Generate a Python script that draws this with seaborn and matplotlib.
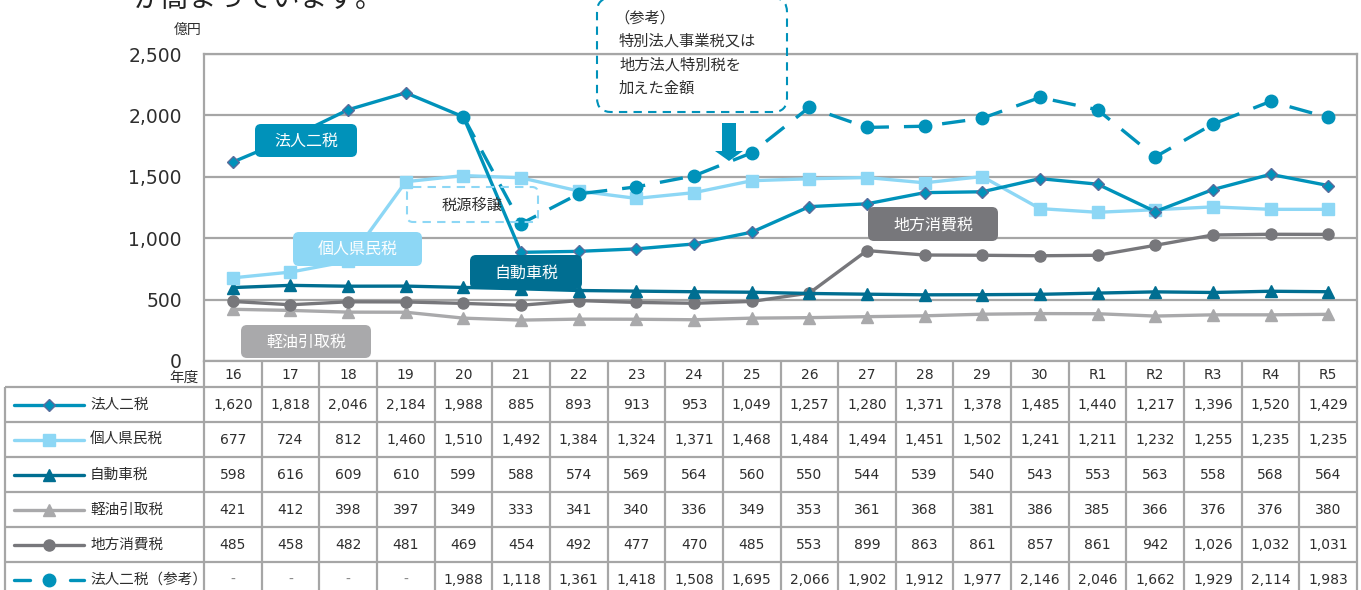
import numpy as np
import pandas as pd
import matplotlib
matplotlib.use("Agg")
import matplotlib.pyplot as plt
import seaborn as sns
from matplotlib.patches import FancyBboxPatch, Polygon

# ---------------- data ----------------
years = ['16', '17', '18', '19', '20', '21', '22', '23', '24', '25',
         '26', '27', '28', '29', '30', 'R1', 'R2', 'R3', 'R4', 'R5']
houjin = [1620, 1818, 2046, 2184, 1988, 885, 893, 913, 953, 1049,
          1257, 1280, 1371, 1378, 1485, 1440, 1217, 1396, 1520, 1429]
kojin = [677, 724, 812, 1460, 1510, 1492, 1384, 1324, 1371, 1468,
         1484, 1494, 1451, 1502, 1241, 1211, 1232, 1255, 1235, 1235]
jidosha = [598, 616, 609, 610, 599, 588, 574, 569, 564, 560,
           550, 544, 539, 540, 543, 553, 563, 558, 568, 564]
keiyu = [421, 412, 398, 397, 349, 333, 341, 340, 336, 349,
         353, 361, 368, 381, 386, 385, 366, 376, 376, 380]
chiho = [485, 458, 482, 481, 469, 454, 492, 477, 470, 485,
         553, 899, 863, 861, 857, 861, 942, 1026, 1032, 1031]
sanko = [np.nan, np.nan, np.nan, np.nan, 1988, 1118, 1361, 1418, 1508, 1695,
         2066, 1902, 1912, 1977, 2146, 2046, 1662, 1929, 2114, 1983]

names = ['法人二税', '個人県民税', '自動車税', '軽油引取税', '地方消費税', '法人二税（参考）']
values = [houjin, kojin, jidosha, keiyu, chiho, sanko]
yticks = [0, 500, 1000, 1500, 2000, 2500]
unit_label = '億円'
year_label = '年度'

# ---------------- styles ----------------
C_HOU = '#0092BA'
C_KOJ = '#8DD7F5'
C_JID = '#006E91'
C_KEI = '#A9A9AB'
C_CHI = '#77777B'
GRID = '#A6A6A6'
TXT = '#2E2E2E'
styles = {
    '法人二税': dict(color=C_HOU, marker='D', ms=6, mec='#5A6C9C', ls='-', z=6),
    '個人県民税': dict(color=C_KOJ, marker='s', ms=8, mec=C_KOJ, ls='-', z=5),
    '自動車税': dict(color=C_JID, marker='^', ms=8, mec=C_JID, ls='-', z=4),
    '軽油引取税': dict(color=C_KEI, marker='^', ms=8, mec=C_KEI, ls='-', z=2),
    '地方消費税': dict(color=C_CHI, marker='o', ms=8, mec=C_CHI, ls='-', z=3),
    '法人二税（参考）': dict(color=C_HOU, marker='o', ms=9, mec=C_HOU, ls='--', z=7),
}

sns.set_theme(style='white')
plt.rcParams['font.family'] = ['DejaVu Sans', 'Noto Sans CJK JP']

W, H = 1361, 590
fig = plt.figure(figsize=(W / 100, H / 100), dpi=100)
fig.patch.set_facecolor('white')


def fx(px):
    return px / W


def fy(py):
    return 1 - py / H


L, R, T, B = 204, 1357, 54, 361
ax = fig.add_axes([fx(L), fy(B), fx(R) - fx(L), fy(T) - fy(B)])

x = np.arange(len(years))
rows = []
for n, v in zip(names, values):
    for xi, vi in zip(x, v):
        rows.append({'series': n, 'x': xi, 'value': vi})
df = pd.DataFrame(rows).dropna()

for n in names:
    st = styles[n]
    sub = df[df['series'] == n]
    sns.lineplot(data=sub, x='x', y='value', ax=ax, color=st['color'], lw=2.4,
                 marker=st['marker'], markersize=st['ms'], markeredgecolor=st['mec'],
                 markeredgewidth=1.0, zorder=st['z'], legend=False)
    line = ax.lines[-1]
    if st['ls'] == '--':
        line.set_dashes([7, 4.5])

ax.set_xlim(-0.5, len(years) - 0.5)
ax.set_ylim(0, 2500)
ax.set_yticks(yticks)
ax.set_yticklabels([f'{t:,}' for t in yticks])
ax.set_xticks([])
ax.set_xlabel('')
ax.set_ylabel('')
ax.yaxis.grid(True, color=GRID, lw=1.6)
ax.set_axisbelow(True)
for sp in ax.spines.values():
    sp.set_visible(True)
    sp.set_color(GRID)
    sp.set_linewidth(1.6)
ax.tick_params(axis='y', length=0, pad=16, labelsize=13.5, labelcolor=TXT)
ax.patch.set_alpha(0)

# ---------------- data table ----------------
colw = (R - L) / len(years)


def cx(px):
    return (px - L) / colw - 0.5


TL = 5
TB = 597
axt = fig.add_axes([fx(TL), fy(TB), fx(R) - fx(TL), fy(B) - fy(TB)])
axt.set_xlim(cx(TL), len(years) - 0.5)
axt.set_ylim(TB, B)
axt.axis('off')
row_tops = [387 + 35 * i for i in range(6)]
axt.hlines(row_tops, cx(TL), len(years) - 0.5, color=GRID, lw=1.6, clip_on=False)
axt.vlines(np.arange(len(years) + 1) - 0.5, B, TB, color=GRID, lw=1.6, clip_on=False)
axt.vlines([cx(TL)], 387, TB, color=GRID, lw=1.6, clip_on=False)

for i, yl in enumerate(years):
    axt.text(i, 374.5, yl, ha='center', va='center', fontsize=10, color=TXT)

for r, (n, v) in enumerate(zip(names, values)):
    yc = row_tops[r] + 17.5
    st = styles[n]
    for i, vi in enumerate(v):
        s = '-' if (isinstance(vi, float) and np.isnan(vi)) else f'{int(vi):,}'
        axt.text(i, yc + 0.5, s, ha='center', va='center', fontsize=10,
                 color=TXT if s != '-' else '#888888')
    # legend sample
    if st['ls'] == '--':
        axt.plot([cx(14), cx(30)], [yc, yc], color=st['color'], lw=2.4, clip_on=False)
        axt.plot([cx(70), cx(84)], [yc, yc], color=st['color'], lw=2.4, clip_on=False)
    else:
        axt.plot([cx(14), cx(84)], [yc, yc], color=st['color'], lw=2.4, clip_on=False)
    axt.plot([cx(49)], [yc], marker=st['marker'], ms=st['ms'], color=st['color'],
             mec=st['mec'], mew=1.0, clip_on=False)
    axt.text(cx(90), yc, n, ha='left', va='center', fontsize=10.5, color=TXT)

# ---------------- overlay annotations ----------------
ao = fig.add_axes([0, 0, 1, 1], zorder=10)
ao.set_xlim(0, W)
ao.set_ylim(H, 0)
ao.axis('off')
ao.patch.set_alpha(0)

ao.text(133, 7, 'が高まっています。', ha='left', va='baseline', fontsize=20, color='#222222')
ao.text(188, 30, unit_label, ha='center', va='center', fontsize=10, color=TXT)
ao.text(184, 377, year_label, ha='center', va='center', fontsize=10.5, color=TXT)


def label_box(x0, y0, x1, y1, fc, text, tc='white', ec='none', ls='-', fs=11.5):
    p = FancyBboxPatch((x0, y0), x1 - x0, y1 - y0,
                       boxstyle='round,pad=0,rounding_size=6',
                       fc=fc, ec=ec, ls=ls, lw=1.5)
    ao.add_patch(p)
    if text:
        ao.text((x0 + x1) / 2, (y0 + y1) / 2 + 1, text, ha='center', va='center',
                fontsize=fs, color=tc)


label_box(255, 124, 357, 157, C_HOU, '法人二税')
label_box(293, 232, 422, 266, C_KOJ, '個人県民税')
label_box(241, 325, 371, 358, C_KEI, '軽油引取税')
label_box(470, 255, 582, 289, C_JID, '自動車税')
label_box(868, 207, 998, 241, C_CHI, '地方消費税')
label_box(407, 187, 538, 222, 'none', '税源移譲', tc=TXT, ec=C_KOJ, ls=(0, (4, 3)), fs=11)

# reference note box
p = FancyBboxPatch((597, -2), 190, 114, boxstyle='round,pad=0,rounding_size=14',
                   fc='none', ec=C_HOU, ls=(0, (4, 3)), lw=1.5)
ao.add_patch(p)
note = ['（参考）', '特別法人事業税又は', '地方法人特別税を', '加えた金額']
for k, s in enumerate(note):
    ao.text(619 if k else 614, 18 + 23.5 * k, s, ha='left', va='center', fontsize=11, color=TXT)

# down arrow
arrow = Polygon([(722, 123), (736, 123), (736, 151), (743, 151), (729, 161),
                 (715, 151), (722, 151)], closed=True, fc=C_HOU, ec='none')
ao.add_patch(arrow)

fig.savefig('out.png', dpi=100, facecolor='white')
